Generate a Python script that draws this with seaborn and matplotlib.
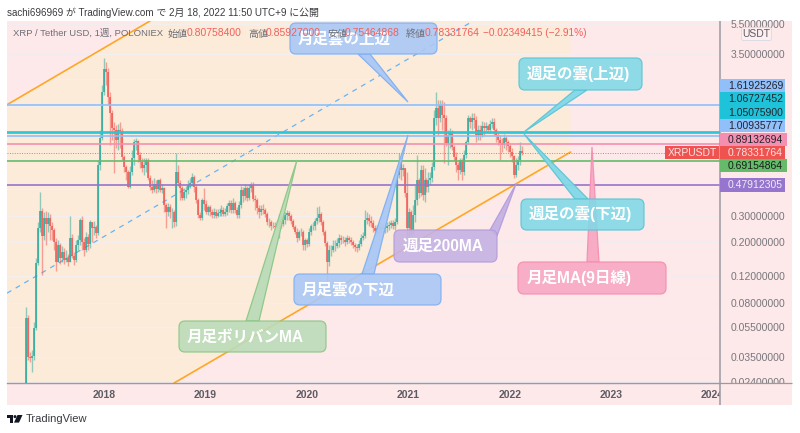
import pandas as pd
import matplotlib
matplotlib.use("Agg")
import matplotlib.pyplot as plt
import matplotlib.dates as mdates
from matplotlib.patches import FancyBboxPatch, Polygon, Rectangle, Circle
from matplotlib.ticker import FixedFormatter, NullFormatter
import seaborn as sns

# weekly candles (open = previous close)
closes = [
    .0635, .035, .0345, .0355, .0545, .146, .249, .323, .221, .29,
    .265, .29, .257, .242, .201, .148, .192, .157, .172, .153,
    .157, .148, .214, .162, .153, .192, .207, .281, .201, .178,
    .218, .195, .273, .249, .253, .231, .65, .975, 1.97, 2.78,
    2.66, 1.82, 1.43, 1.14, 1.10, .948, 1.10, 1.085, .733, .63,
    .583, .464, .583, .722, .92, .935, .755, .68, .62, .65,
    .70, .532, .464, .444, .486, .45, .516, .444, .457, .353,
    .318, .343, .318, .318, .273, .583, .493, .457, .393, .43,
    .444, .478, .493, .54, .464, .381, .304, .29, .381, .358,
    .318, .343, .318, .304, .318, .299, .313, .318, .328, .308,
    .318, .348, .364, .328, .364, .328, .304, .353, .444, .405,
    .457, .393, .457, .478, .387, .381, .338, .318, .333, .328,
    .308, .273, .273, .257, .257, .253, .261, .29, .265, .281,
    .304, .313, .299, .277, .253, .235, .214, .235, .235, .192,
    .207, .195, .235, .257, .257, .277, .29, .308, .273, .235,
    .198, .148, .178, .178, .189, .189, .198, .214, .207, .207,
    .201, .214, .207, .201, .192, .186, .183, .195, .214, .221,
    .281, .29, .277, .269, .249, .238, .249, .246, .253, .246,
    .249, .257, .261, .269, .257, .273, .557, .67, .60, .62,
    .424, .249, .318, .242, .304, .381, .516, .424, .60, .411,
    .516, .464, .516, .532, .63, 1.33, 1.55, 1.33, 1.62, 1.39,
    1.33, .906, 1.02, 1.05, .853, .733, .65, .60, .70, .583,
    .755, .92, 1.33, 1.25, 1.33, 1.28, 1.02, 1.10, 1.02, 1.17,
    1.14, 1.17, 1.10, 1.21, 1.25, 1.10, 1.02, .948, .906, .88,
    .975, .92, .866, .79, .744, .557, .65, .70, .8076, .7833,
]
highs = [
    .075, .066, .0378, .039, .0595, .157, .273, .43, .338, .318,
    .323, .318, .308, .273, .249, .214, .207, .198, .189, .183,
    .178, .167, .299, .228, .172, .207, .224, .29, .299, .214,
    .235, .228, .281, .273, .277, .261, .70, 1.10, 2.19, 3.31,
    3.10, 2.82, 1.97, 1.50, 1.25, 1.19, 1.21, 1.25, 1.14, .755,
    .65, .60, .64, .815, .96, .975, .948, .79, .722, .722,
    .722, .722, .557, .516, .532, .516, .524, .532, .486, .464,
    .364, .364, .358, .338, .328, .778, .65, .516, .471, .457,
    .471, .516, .532, .574, .557, .478, .393, .318, .393, .457,
    .381, .353, .353, .333, .338, .333, .333, .338, .353, .343,
    .338, .364, .381, .381, .393, .375, .343, .375, .471, .464,
    .486, .471, .486, .50, .50, .411, .393, .353, .353, .358,
    .338, .318, .29, .281, .273, .273, .281, .308, .304, .304,
    .318, .328, .323, .308, .286, .261, .249, .242, .249, .242,
    .214, .214, .249, .265, .273, .29, .343, .348, .318, .281,
    .242, .204, .192, .192, .207, .207, .214, .228, .224, .221,
    .218, .224, .221, .218, .207, .198, .195, .207, .228, .235,
    .328, .318, .308, .299, .281, .261, .261, .261, .269, .265,
    .265, .273, .277, .281, .281, .29, .60, .778, .70, .66,
    .62, .583, .338, .328, .353, .478, .755, .532, .65, .65,
    .62, .532, .583, .583, .68, 1.50, 1.97, 1.74, 1.74, 1.74,
    1.69, 1.39, 1.10, 1.14, 1.10, .88, .79, .68, .722, .722,
    .815, .948, 1.39, 1.37, 1.43, 1.43, 1.37, 1.19, 1.19, 1.27,
    1.25, 1.25, 1.21, 1.28, 1.33, 1.33, 1.14, 1.05, 1.02, .975,
    1.04, 1.0, .948, .893, .84, .755, .722, .744, .92, .8593,
]
lows = [
    .0236, .0336, .0326, .028, .0336, .0529, .142, .235, .122, .207,
    .192, .235, .207, .207, .178, .13, .148, .144, .148, .144,
    .148, .14, .148, .157, .142, .148, .178, .192, .178, .162,
    .172, .178, .183, .201, .224, .214, .224, .60, .948, 1.88,
    2.19, 1.62, .88, .948, .574, .84, .815, .84, .70, .583,
    .516, .457, .457, .557, .65, .815, .68, .62, .583, .557,
    .583, .516, .444, .424, .43, .424, .43, .43, .424, .318,
    .249, .299, .29, .249, .253, .257, .471, .381, .381, .381,
    .393, .417, .457, .471, .43, .364, .29, .281, .281, .328,
    .308, .304, .299, .29, .29, .29, .295, .299, .299, .299,
    .299, .304, .318, .313, .313, .313, .29, .29, .338, .37,
    .381, .375, .381, .43, .375, .328, .308, .29, .304, .308,
    .295, .261, .253, .242, .249, .242, .246, .214, .249, .257,
    .265, .281, .281, .265, .246, .228, .201, .207, .221, .178,
    .178, .186, .189, .224, .242, .242, .265, .273, .261, .224,
    .189, .105, .14, .162, .172, .175, .183, .186, .195, .198,
    .189, .195, .198, .192, .183, .175, .172, .178, .189, .207,
    .214, .265, .257, .253, .235, .221, .221, .228, .235, .231,
    .231, .235, .242, .249, .246, .242, .265, .532, .516, .548,
    .399, .218, .214, .221, .228, .273, .353, .393, .405, .381,
    .37, .43, .43, .478, .50, .60, 1.19, 1.02, 1.25, 1.10,
    .67, .866, .65, .84, .815, .70, .583, .516, .565, .516,
    .557, .722, .893, 1.14, 1.10, 1.14, .92, .948, .948, .99,
    1.0, 1.07, 1.07, 1.05, 1.14, 1.0, .92, .88, .70, .79,
    .84, .815, .79, .733, .68, .532, .54, .60, .65, .7546,
]
first_open = .02

level_prices = [1.61925269, 1.06727452, 1.05075900, 1.00935777, 0.89132694, 0.69154864, 0.47912305]
level_colors = ["#90bff9", "#26c6da", "#26c6da", "#90bff9", "#f48fb1", "#66bb6a", "#9575cd"]
last_price = 0.78331764

axis_ticks = [5.5, 3.5, 0.3, 0.2, 0.12, 0.08, 0.055, 0.035, 0.024]
grid_only = [2.4, 1.6, 1.05, 0.7, 0.45]
year_ticks = ["2018", "2019", "2020", "2021", "2022", "2023", "2024"]

# trend lines and the channel between the orange ones
upper_x = ["2017-01-16", "2018-06-15"]
upper_y = [1.62, 5.78]
lower_x = ["2018-09-09", "2022-08-08"]
lower_y = [.0236, .79]
dash_x = ["2017-01-16", "2021-08-22"]
dash_y = [.0926, 5.78]

sns.set_theme(style="white")
plt.rcParams["font.family"] = ["Liberation Sans", "Noto Sans CJK JP", "DejaVu Sans"]

PEACH = "#fdebd9"
PINK = "#fde8ea"
GREY = "#9b9aa0"
UP = "#26a69a"
DOWN = "#ef5350"

fig = plt.figure(figsize=(8, 4.33), dpi=100, facecolor="white")
W, H = 800, 433

# page panel behind the chart, with axis strips
back = fig.add_axes([7 / W, 1 - 405 / H, 785 / W, 384 / H])
back.set_facecolor(PINK)
back.set_xticks([])
back.set_yticks([])
for s in back.spines.values():
    s.set_visible(False)

ax = fig.add_axes([7 / W, 1 - 383 / H, 713 / W, 362 / H])
ax.set_facecolor(PINK)
ax.set_yscale("log")

left, right = pd.Timestamp("2017-01-16"), pd.Timestamp("2024-01-28")

# channel fill
fill_x = pd.to_datetime([upper_x[0], upper_x[1], "2022-08-08", lower_x[1], lower_x[0], upper_x[0]])
fill_y = [upper_y[0], upper_y[1], upper_y[1], lower_y[1], lower_y[0], lower_y[0]]
ax.fill(fill_x, fill_y, color=PEACH, lw=0, zorder=0)

weeks = pd.date_range("2017-03-27", "2022-02-14", periods=len(closes))
opens = [first_open] + closes[:-1]
candles = pd.DataFrame({"date": weeks, "week": range(len(closes)), "open": opens,
                        "close": closes, "high": highs, "low": lows})
candles["dir"] = ["up" if c >= o else "down" for o, c in zip(opens, closes)]
wicks = candles.melt(id_vars=["date", "week", "dir"], value_vars=["low", "high"], value_name="price")
bodies = candles.melt(id_vars=["date", "week", "dir"], value_vars=["open", "close"], value_name="price")
pal = {"up": UP, "down": DOWN}

sns.lineplot(data=wicks, x="date", y="price", units="week", hue="dir", palette=pal, estimator=None,
             sort=False, legend=False, lw=1.0, alpha=0.5, solid_capstyle="butt", ax=ax, zorder=3)
sns.lineplot(data=bodies, x="date", y="price", units="week", hue="dir", palette=pal, estimator=None,
             sort=False, legend=False, lw=1.25, alpha=0.85, solid_capstyle="butt", ax=ax, zorder=4)

# horizontal levels
levels = pd.DataFrame({"date": [left, right] * len(level_prices),
                       "price": [p for p in level_prices for _ in range(2)],
                       "level": [str(p) for p in level_prices for _ in range(2)]})
sns.lineplot(data=levels, x="date", y="price", hue="level", estimator=None, sort=False, legend=False,
             palette={str(p): c for p, c in zip(level_prices, level_colors)}, lw=1.2, ax=ax, zorder=5)
ax.axhline(last_price, color=DOWN, lw=0.7, ls=(0, (1, 1.5)), alpha=0.8, zorder=5)

sns.lineplot(x=pd.to_datetime(upper_x), y=upper_y, color="#ffa726", lw=1.2, ax=ax, zorder=2)
sns.lineplot(x=pd.to_datetime(lower_x), y=lower_y, color="#ffa726", lw=1.2, ax=ax, zorder=2)
sns.lineplot(x=pd.to_datetime(dash_x), y=dash_y, color="#64b5f6", lw=0.9, ls=(0, (4, 4)), ax=ax, zorder=2)

ax.set_xlim(left, right)
ax.set_ylim(0.02365, 5.78)
ax.set_xlabel("")
ax.set_ylabel("")

ax.set_xticks(pd.to_datetime([y + "-01-01" for y in year_ticks]))
ax.xaxis.set_major_formatter(mdates.DateFormatter("%Y"))
ax.yaxis.tick_right()
ax.set_yticks(axis_ticks)
ax.yaxis.set_major_formatter(FixedFormatter(["%.8f" % t for t in axis_ticks]))
ax.set_yticks(grid_only, minor=True)
ax.yaxis.set_minor_formatter(NullFormatter())
ax.tick_params(axis="y", which="both", length=0, pad=7.5, labelsize=7.5, labelcolor="#77777c")
ax.tick_params(axis="x", length=0, pad=5, labelsize=7.5, labelcolor="#5c5c62")
for t in ax.get_xticklabels():
    t.set_fontweight("bold")
ax.grid(True, axis="y", which="both", color="#f1eff5", lw=0.8, alpha=0.8, zorder=1)
ax.set_axisbelow(True)
for name, s in ax.spines.items():
    s.set_visible(name == "bottom")
ax.spines["bottom"].set_color(GREY)
ax.spines["bottom"].set_linewidth(1)

# overlay in image pixels for the drawn-on callouts and price tags
ov = fig.add_axes([0, 0, 1, 1])
ov.set_xlim(0, W)
ov.set_ylim(H, 0)
ov.axis("off")
ov.patch.set_alpha(0)

# the price strip hides the end of the last year label
ov.add_patch(Rectangle((720, 384), 72, 21, fc=PINK, ec="none", zorder=0.5))
ov.plot([720, 720], [21, 405], color=GREY, lw=1.1, solid_capstyle="butt", zorder=1)
ov.plot([720, 792], [383, 383], color=GREY, lw=0.9, solid_capstyle="butt", zorder=1)


def callout(box, tail, label, tx, ty, face, edge, z=3):
    x0, y0, x1, y1 = box
    ov.add_patch(Polygon(tail, closed=True, fc=face, ec=edge, lw=0.9, alpha=0.95, zorder=z))
    ov.add_patch(FancyBboxPatch((x0 + 6, y0 + 6), x1 - x0 - 12, y1 - y0 - 12,
                                boxstyle="round,pad=6,rounding_size=6", fc=face, ec=edge,
                                lw=0.9, alpha=0.9, zorder=z))
    ov.text(tx, ty, label, color="white", fontsize=11.2, va="center", ha="left",
            fontweight="bold", zorder=z + 0.1)


BLUE_F, BLUE_E = "#aac8f6", "#7fb0f2"
CYAN_F, CYAN_E = "#82d9e7", "#5cc5d6"
callout((290, 23, 437, 54), [(358, 54), (370, 54), (408, 102)], "月足雲の上辺", 298, 39, BLUE_F, BLUE_E)
callout((294, 274, 441, 305), [(362, 274), (374, 274), (408, 135)], "月足雲の下辺", 302, 290, BLUE_F, BLUE_E)
callout((179, 321, 326, 352), [(246, 321), (259, 321), (297, 160)], "月足ボリバンMA", 187, 337,
        "#bbdcb8", "#8cc788")
callout((394, 230, 497, 262), [(490, 230), (497, 236), (516, 184)], "週足200MA", 403, 246,
        "#c6b2e3", "#b39ddb")
callout((518, 262, 666, 294), [(587, 262), (599, 262), (592, 147)], "月足MA(9日線)", 527, 278,
        "#f7a8c2", "#f48fb1")
callout((519, 58, 642, 90), [(575, 90), (587, 90), (524, 132)], "週足の雲(上辺)", 527, 74, CYAN_F, CYAN_E, z=4)
callout((521, 199, 644, 230), [(575, 199), (588, 199), (524, 134)], "週足の雲(下辺)", 529, 214, CYAN_F, CYAN_E, z=4)

# price tags on the axis
tags = [("1.61925269", 79, 92, "#90bff9", "#22242c", 785),
        ("1.06727452", 92, 106, "#1fc3d9", "#22242c", 785),
        ("1.05075900", 106, 119, "#1fc3d9", "#22242c", 785),
        ("1.00935777", 119, 132, "#90bff9", "#22242c", 785),
        ("0.89132694", 133, 146, "#f48fb1", "#22242c", 787),
        ("0.78331764", 146, 159, DOWN, "#fbe3e3", 785),
        ("0.69154864", 159, 172, "#66bb6a", "#16201a", 787),
        ("0.47912305", 178, 192, "#9575cd", "#f0ebf8", 785)]
for label, y0, y1, face, ink, x1 in tags:
    ov.add_patch(Rectangle((720, y0), x1 - 720, y1 - y0, fc=face, ec="none", zorder=5))
    ov.text(728, (y0 + y1) / 2 + 0.3, label, color=ink, fontsize=7.5, va="center", zorder=6)
ov.add_patch(Rectangle((665, 146), 54, 13, fc=DOWN, ec="none", zorder=5))
ov.text(692, 152.8, "XRPUSDT", color="#fbe3e3", fontsize=7.5, va="center", ha="center", zorder=6)

ov.add_patch(FancyBboxPatch((743, 29), 27, 10, boxstyle="round,pad=1.5,rounding_size=2", fc="#fdeef0",
                            ec="#d9dde6", lw=0.7, zorder=5))
ov.text(756.5, 34, "USDT", color="#5c5c62", fontsize=7.5, va="center", ha="center", zorder=6)

# header line with coloured values
LABEL = "#6d6f78"
VALUE = "#f0605c"
header = [(13, "XRP / Tether USD, 1週, POLONIEX", LABEL, 6.8), (168, "始値", LABEL, 7.2), (187, "0.80758400", VALUE, 7.5),
          (248, "高値", LABEL, 7.2), (266, "0.85927000", VALUE, 7.5), (327, "安値", LABEL, 7.2), (345, "0.75464868", VALUE, 7.5),
          (406, "終値", LABEL, 7.2), (425, "0.78331764", VALUE, 7.5), (483, "−0.02349415 (−2.91%)", VALUE, 7.3)]
for hx, txt, col, size in header:
    ov.text(hx, 33.5, txt, color=col, fontsize=size, va="center", zorder=8)

ov.text(7, 12.5, "sachi696969 が TradingView.com で 2月 18, 2022 11:50 UTC+9 に公開", color="#3a3a40",
        fontsize=7.15, va="center")

# TradingView mark and name at the bottom
ov.add_patch(Rectangle((7, 415), 6, 2.6, fc="#131722", ec="none"))
ov.add_patch(Rectangle((9.8, 415), 3.2, 7.6, fc="#131722", ec="none"))
ov.add_patch(Circle((15, 416.6), 1.5, fc="#131722", ec="none"))
ov.add_patch(Polygon([(17.5, 415), (22.5, 415), (19, 422.6), (14, 422.6)], closed=True, fc="#131722", ec="none"))
ov.text(26, 419, "TradingView", color="#3a3a40", fontsize=8, va="center")

fig.savefig("out.png", dpi=100, facecolor="white")
